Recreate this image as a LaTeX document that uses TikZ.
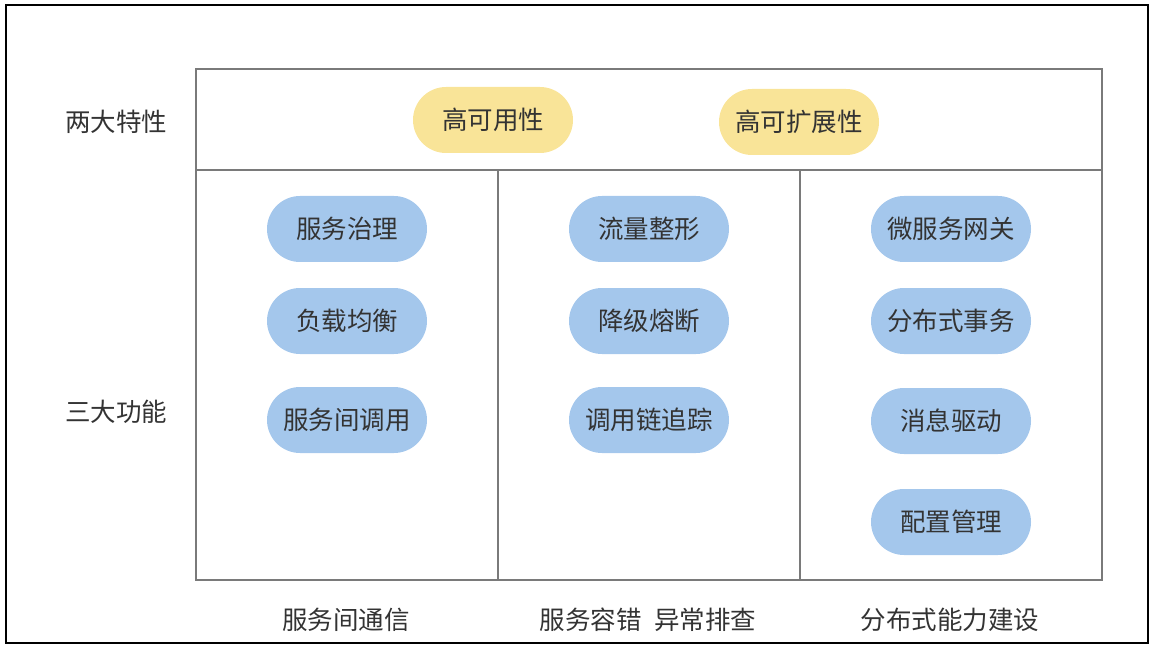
\documentclass[tikz,border=0pt]{standalone}
\usepackage{fontspec}
\setmainfont{Noto Sans CJK SC}
\usetikzlibrary{shapes.misc}
\definecolor{pillyellow}{HTML}{F9E498}
\definecolor{pillblue}{HTML}{A4C7EC}
\definecolor{framegray}{HTML}{7A7A7A}
\definecolor{textgray}{HTML}{333333}
\begin{document}
\begin{tikzpicture}[x=1pt,y=-1pt,font=\fontsize{25.5}{30}\selectfont,text=textgray,
  pill/.style={rounded rectangle,minimum width=160pt,minimum height=66pt,inner sep=0pt},
  trait/.style={pill,fill=pillyellow},
  feature/.style={pill,fill=pillblue}]
\useasboundingbox (0,0) rectangle (1153,652);
\draw[line width=1.2pt] (6,5) rectangle (1148,643);
% table frame
\draw[framegray,line width=1.4pt] (196,69) rectangle (1102,580);
\draw[framegray,line width=1.4pt] (196,170)--(1102,170) (498,170)--(498,580) (800,170)--(800,580);
\node (twotraits) at (116,122) {两大特性};
\node (threefuncs) at (116,412) {三大功能};
\node[trait] (avail) at (493,120) {高可用性};
\node[trait] (scal) at (799,122) {高可扩展性};
\foreach \x/\y/\name/\txt in {
  347/229/govern/{服务治理},
  347/321/balance/{负载均衡},
  347/420/invoke/{服务间调用},
  649/229/shape/{流量整形},
  649/321/fuse/{降级熔断},
  649/420/trace/{调用链追踪},
  951/229/gateway/{微服务网关},
  951/321/dtx/{分布式事务},
  951/421/msg/{消息驱动},
  951/522/config/{配置管理}%
}{
  \node[feature] (\name) at (\x,\y) {\txt};
}
\node (comm) at (346,620) {服务间通信};
\node (fault) at (648,620) {服务容错\hspace{0.5em}异常排查};
\node (dist) at (950,620) {分布式能力建设};
\end{tikzpicture}
\end{document}
